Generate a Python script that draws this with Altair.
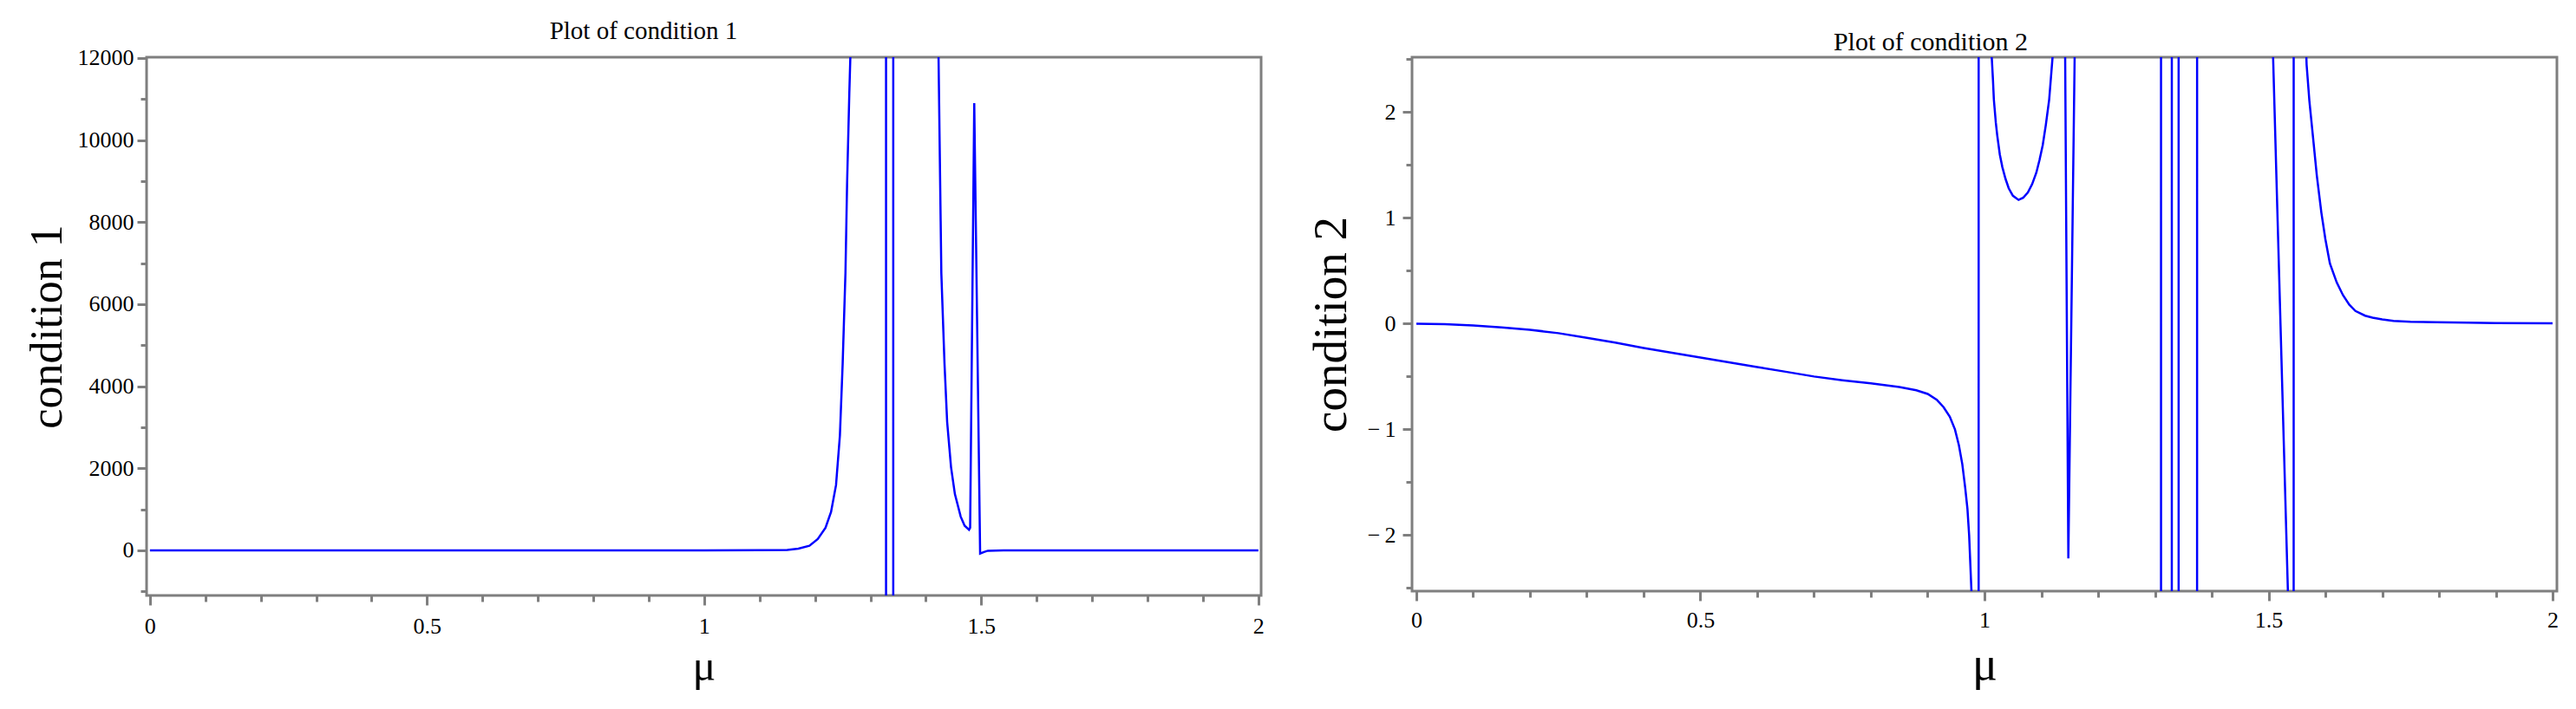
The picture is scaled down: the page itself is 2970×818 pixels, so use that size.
import altair as alt
import pandas as pd

# ---------------- data ----------------
mu1 = [0.0, 0.2, 0.4, 0.6, 0.8, 1.0, 1.1, 1.15, 1.17, 1.19, 1.205, 1.219, 1.229, 1.238,
       1.245, 1.25, 1.255, 1.258, 1.262, 1.264, 1.28, 1.31, 1.328, 1.3285, 1.341, 1.3415,
       1.38, 1.41, 1.423, 1.428, 1.4337, 1.4385, 1.4455, 1.4525, 1.463, 1.470, 1.478,
       1.480, 1.4874, 1.498, 1.505, 1.512, 1.54, 1.6, 1.8, 2.0]
cond1 = [0, 0, 0, 0, 0, 0, 2, 10, 40, 110, 275, 550, 935, 1590,
         2800, 4560, 6760, 8960, 11150, 12100, 40000, 150000, 300000, -300000, -300000, 300000,
         80000, 25000, 12000, 6760, 4560, 3130, 2030, 1370, 820, 600, 500,
         550, 10900, -80, -40, -10, 0, 0, 0, 0]

mu2 = [0.0, 0.05, 0.1, 0.15, 0.2, 0.25, 0.3, 0.35, 0.4, 0.45, 0.5, 0.55, 0.6, 0.65, 0.7,
       0.75, 0.8, 0.85, 0.88, 0.9, 0.916, 0.928, 0.939, 0.948, 0.955, 0.961, 0.966, 0.970,
       0.973, 0.977, 0.984, 0.9895, 0.990, 1.0, 1.008,
       1.0127, 1.015, 1.0165, 1.02, 1.0225, 1.027, 1.0315, 1.037, 1.0427, 1.05, 1.06, 1.068,
       1.0764, 1.084, 1.0914, 1.097, 1.1026, 1.108, 1.1139, 1.12,
       1.125, 1.135, 1.1476, 1.165, 1.2, 1.28, 1.3105, 1.311, 1.3295, 1.330, 1.3415, 1.342,
       1.374, 1.3745, 1.45, 1.50, 1.54, 1.544, 1.5445, 1.555, 1.562, 1.567, 1.572, 1.578,
       1.585, 1.593, 1.60, 1.608, 1.62, 1.631, 1.642, 1.653, 1.67, 1.683, 1.70, 1.72, 1.75,
       1.795, 1.85, 1.9, 2.0]
cond2 = [0, -0.005, -0.018, -0.035, -0.058, -0.09, -0.135, -0.18, -0.23, -0.275, -0.32,
         -0.365, -0.41, -0.455, -0.50, -0.535, -0.565, -0.60, -0.63, -0.665, -0.72, -0.79,
         -0.88, -1.0, -1.15, -1.33, -1.55, -1.75, -2.0, -2.52, -8, -60, 60, 15, 5,
         2.53, 2.3, 2.12, 1.9, 1.78, 1.6, 1.48, 1.37, 1.28, 1.21, 1.17, 1.19,
         1.24, 1.32, 1.43, 1.55, 1.69, 1.88, 2.12, 2.53,
         4, 8.5, -2.22, 5.2, 30, 60, 60, -60, -60, 60, 60, -60,
         -60, 60, 40, 4.08, -3.68, -50, 50, 6.0, 3.3, 2.45, 2.1, 1.78,
         1.4, 1.05, 0.8, 0.57, 0.39, 0.27, 0.18, 0.12, 0.075, 0.056, 0.04, 0.026, 0.018,
         0.013, 0.009, 0.006, 0.004]

x_ticks = [round(i * 0.1, 1) for i in range(21)]          # major every 0.5, minor every 0.1
y1_ticks = list(range(-1000, 12001, 1000))                 # major every 2000
y2_ticks = [v / 2 for v in range(-5, 6)]                   # major every 1

title1 = "Plot of condition 1"
title2 = "Plot of condition 2"
ytitle1 = "condition 1"
ytitle2 = "condition 2"
xtitle = "μ"

# ---------------- styling ----------------
FONT = "Liberation Serif"
GREY = "#7f7f7f"
BLUE = "#0000ff"
W1, H1 = 1285, 621
W2, H2 = 1320, 616


def minor_dash(test):
    return {"condition": {"test": test, "value": [7, 40]}, "value": [40, 0]}


def x_axis(W, label_size, lp, title_size, title_y):
    return alt.Axis(
        values=x_ticks,
        labelExpr="round(datum.value*10) % 5 == 0 ? format(datum.value, '~g') : ''",
        grid=False, domain=False,
        tickSize=11, tickWidth=3, tickColor=GREY,
        tickDash=minor_dash("round(datum.value*10) % 5 != 0"),
        labelFont=FONT, labelFontSize=label_size, labelColor="black",
        labelPadding=lp, labelOverlap=False, labelFlush=False,
        title=xtitle, titleFont=FONT, titleFontSize=title_size, titleFontWeight="normal",
        titleColor="black", titleBaseline="alphabetic", titleAlign="center",
        titleX=W / 2, titleY=title_y,
    )


def y_axis(values, label_expr, minor_test, title, H, label_size, lp, title_size, title_x):
    return alt.Axis(
        values=values, labelExpr=label_expr,
        grid=False, domain=False,
        tickSize=11, tickWidth=3, tickColor=GREY,
        tickDash=minor_dash(minor_test),
        labelFont=FONT, labelFontSize=label_size, labelColor="black",
        labelPadding=lp, labelOverlap=False, labelFlush=False,
        title=title, titleFont=FONT, titleFontSize=title_size, titleFontWeight="normal",
        titleColor="black", titleAngle=270, titleAlign="center", titleBaseline="alphabetic",
        titleX=title_x, titleY=H / 2,
    )


def title_mark(text, size, x, y):
    return alt.Chart(pd.DataFrame({"t": [text]})).mark_text(
        font=FONT, fontSize=size, color="black", align="center", baseline="alphabetic"
    ).encode(text="t:N", x=alt.value(x), y=alt.value(y))


df1 = pd.DataFrame({"mu": mu1, "c": cond1})
df2 = pd.DataFrame({"mu": mu2, "c": cond2})

line1 = alt.Chart(df1).mark_line(color=BLUE, strokeWidth=2.5, clip=True).encode(
    x=alt.X("mu:Q", scale=alt.Scale(domain=[-0.006, 2.005], nice=False, zero=False),
            axis=x_axis(W1, 26, 11, 50, 97)),
    y=alt.Y("c:Q", scale=alt.Scale(domain=[-1100, 12020], nice=False, zero=False),
            axis=y_axis(y1_ticks, "datum.value % 2000 == 0 ? format(datum.value, 'd') : ''",
                        "datum.value % 2000 != 0", ytitle1, H1, 26, 4, 52, -99)),
)
left = alt.layer(line1, title_mark(title1, 29, 573, -21)).properties(width=W1, height=H1)

line2 = alt.Chart(df2).mark_line(color=BLUE, strokeWidth=2.5, clip=True).encode(
    x=alt.X("mu:Q", scale=alt.Scale(domain=[-0.0076, 2.0076], nice=False, zero=False),
            axis=x_axis(W2, 26, 9, 54, 101)),
    y=alt.Y("c:Q", scale=alt.Scale(domain=[-2.53, 2.52], nice=False, zero=False),
            axis=y_axis(y2_ticks,
                        "datum.value % 1 == 0 ? (datum.value < 0 ? '\u2212\u2009' + format(-datum.value, 'd') : format(datum.value, 'd')) : ''",
                        "datum.value % 1 != 0", ytitle2, H2, 26, 8, 55, -77)),
)
right = alt.layer(line2, title_mark(title2, 30, 598, -8)).properties(width=W2, height=H2)

chart = alt.hconcat(left, right, spacing=46).properties(
    padding={"left": 18, "top": 12, "right": 0, "bottom": 0},
    background="white",
).configure_view(stroke=GREY, strokeWidth=3)

chart.save("out.html", embed_options={"renderer": "svg", "actions": False})
